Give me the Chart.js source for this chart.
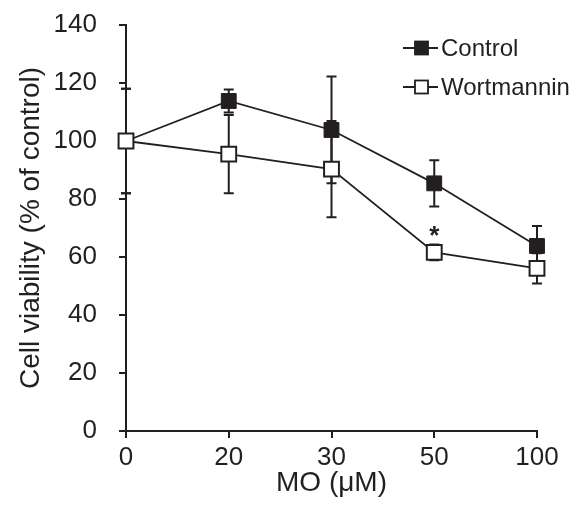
<!DOCTYPE html>
<html>
<head>
<meta charset="utf-8">
<script src="https://cdn.jsdelivr.net/npm/chart.js@4"></script>
<style>
  html, body { margin: 0; padding: 0; background: #fff; }
  #wrap { width: 579px; height: 505px; }
</style>
</head>
<body>
<div id="wrap"><canvas id="viabilityChart"></canvas></div>
<script>
(function() {
  var ctx = document.getElementById('viabilityChart');
  if (!ctx) return;

  var ink = '#231f20';
  var fontFamily = '"Liberation Sans", Arial, Helvetica, sans-serif';

  /* MO concentration (uM), shown as evenly spaced categories */
  var doses = ['0', '20', '30', '50', '100'];

  /* cell viability, % of control */
  var controlMean = [100, 113.8, 103.8, 85.4, 63.8];
  var controlErr  = [18, 4, 18.4, 8, 6.9];
  var wortMean    = [100, 95.5, 90.3, 61.6, 56.1];
  var wortErr     = [18, 13.5, 16.6, 2.7, 5.2];
  var wortSig     = ['', '', '', '*', ''];

  var yTicks = [0, 20, 40, 60, 80, 100, 120, 140];

  var chart = new Chart(ctx, {
    type: 'line',
    data: {
      labels: doses,
      datasets: [
        {
          label: 'Control',
          data: controlMean,
          errors: controlErr,
          borderColor: ink,
          borderWidth: 1.8,
          pointStyle: 'rect',
          pointRadius: 10.5,
          pointBackgroundColor: ink,
          pointBorderColor: ink,
          pointBorderWidth: 1,
          tension: 0,
          fill: false,
          order: 1
        },
        {
          label: 'Wortmannin',
          data: wortMean,
          errors: wortErr,
          marks: wortSig,
          borderColor: ink,
          borderWidth: 1.8,
          pointStyle: 'rect',
          pointRadius: 10.5,
          pointBackgroundColor: '#ffffff',
          pointBorderColor: ink,
          pointBorderWidth: 2,
          tension: 0,
          fill: false,
          order: 0
        }
      ]
    },
    options: {
      responsive: true,
      maintainAspectRatio: false,
      animation: false,
      layout: { padding: { top: 25, right: 42, bottom: 0, left: 0 } },
      plugins: {
        legend: { display: false },
        tooltip: { enabled: false }
      },
      scales: {
        x: {
          type: 'category',
          offset: false,
          grid: {
            drawOnChartArea: false,
            drawTicks: true,
            tickLength: 7,
            lineWidth: 2,
            color: ink
          },
          border: { display: true, color: ink, width: 2 },
          ticks: {
            font: { size: 26, family: fontFamily },
            color: ink,
            padding: 4,
            maxRotation: 0,
            autoSkip: false
          },
          title: {
            display: true,
            text: 'MO (\u03bcM)',
            font: { size: 28, family: fontFamily },
            color: ink,
            padding: { top: 0, bottom: 5 }
          },
          afterFit: function(scale) {
            scale.height = 74;
            scale.paddingLeft = 0;
            scale.paddingRight = 0;
          }
        },
        y: {
          min: 0,
          max: 140,
          grid: {
            drawOnChartArea: false,
            drawTicks: true,
            tickLength: 7,
            lineWidth: 2,
            color: ink
          },
          border: { display: true, color: ink, width: 2 },
          ticks: {
            font: { size: 26, family: fontFamily },
            color: ink,
            padding: 22,
            stepSize: 20
          },
          afterBuildTicks: function(axis) {
            axis.ticks = yTicks.map(function(v) { return { value: v }; });
          },
          title: {
            display: true,
            text: 'Cell viability (% of control)',
            font: { size: 28, family: fontFamily },
            color: ink,
            padding: { top: 14, bottom: 0 }
          },
          afterFit: function(scale) {
            scale.width = 126;
            scale.paddingTop = 0;
            scale.paddingBottom = 0;
          }
        }
      }
    },
    plugins: [{
      id: 'errorBars',
      beforeDatasetsDraw: function(chartInst) {
        var c = chartInst.ctx;
        var yScale = chartInst.scales.y;
        chartInst.data.datasets.forEach(function(ds, di) {
          var meta = chartInst.getDatasetMeta(di);
          c.save();
          c.strokeStyle = ink;
          c.lineWidth = 2;
          meta.data.forEach(function(pt, i) {
            var e = ds.errors[i];
            if (!e) return;
            var yTop = yScale.getPixelForValue(ds.data[i] + e);
            var yBot = yScale.getPixelForValue(ds.data[i] - e);
            c.beginPath();
            c.moveTo(pt.x, yTop);
            c.lineTo(pt.x, yBot);
            c.moveTo(pt.x - 5, yTop);
            c.lineTo(pt.x + 5, yTop);
            c.moveTo(pt.x - 5, yBot);
            c.lineTo(pt.x + 5, yBot);
            c.stroke();
          });
          c.restore();
        });
      },
      afterDraw: function(chartInst) {
        var c = chartInst.ctx;
        var yScale = chartInst.scales.y;

        /* significance marks above error bars */
        chartInst.data.datasets.forEach(function(ds, di) {
          if (!ds.marks) return;
          var meta = chartInst.getDatasetMeta(di);
          c.save();
          c.fillStyle = ink;
          c.font = 'bold 26px ' + fontFamily;
          c.textAlign = 'center';
          c.textBaseline = 'alphabetic';
          meta.data.forEach(function(pt, i) {
            if (!ds.marks[i]) return;
            var yTop = yScale.getPixelForValue(ds.data[i] + ds.errors[i]);
            c.fillText(ds.marks[i], pt.x, yTop - 1);
          });
          c.restore();
        });

        /* legend: line - marker - line */
        var lx = 403, rowY = [48, 87];
        chartInst.data.datasets.forEach(function(ds, di) {
          var y = rowY[di];
          c.save();
          c.strokeStyle = ink;
          c.lineWidth = 2;
          c.beginPath();
          c.moveTo(lx, y);
          c.lineTo(lx + 35, y);
          c.stroke();
          c.fillStyle = ds.pointBackgroundColor;
          c.fillRect(lx + 12, y - 6.5, 13, 13);
          c.lineWidth = 1.8;
          c.strokeRect(lx + 12, y - 6.5, 13, 13);
          c.fillStyle = ink;
          c.font = '24px ' + fontFamily;
          c.textAlign = 'left';
          c.textBaseline = 'middle';
          c.fillText(ds.label, lx + 38, y + 1);
          c.restore();
        });
      }
    }]
  });
})();
</script>
</body>
</html>
